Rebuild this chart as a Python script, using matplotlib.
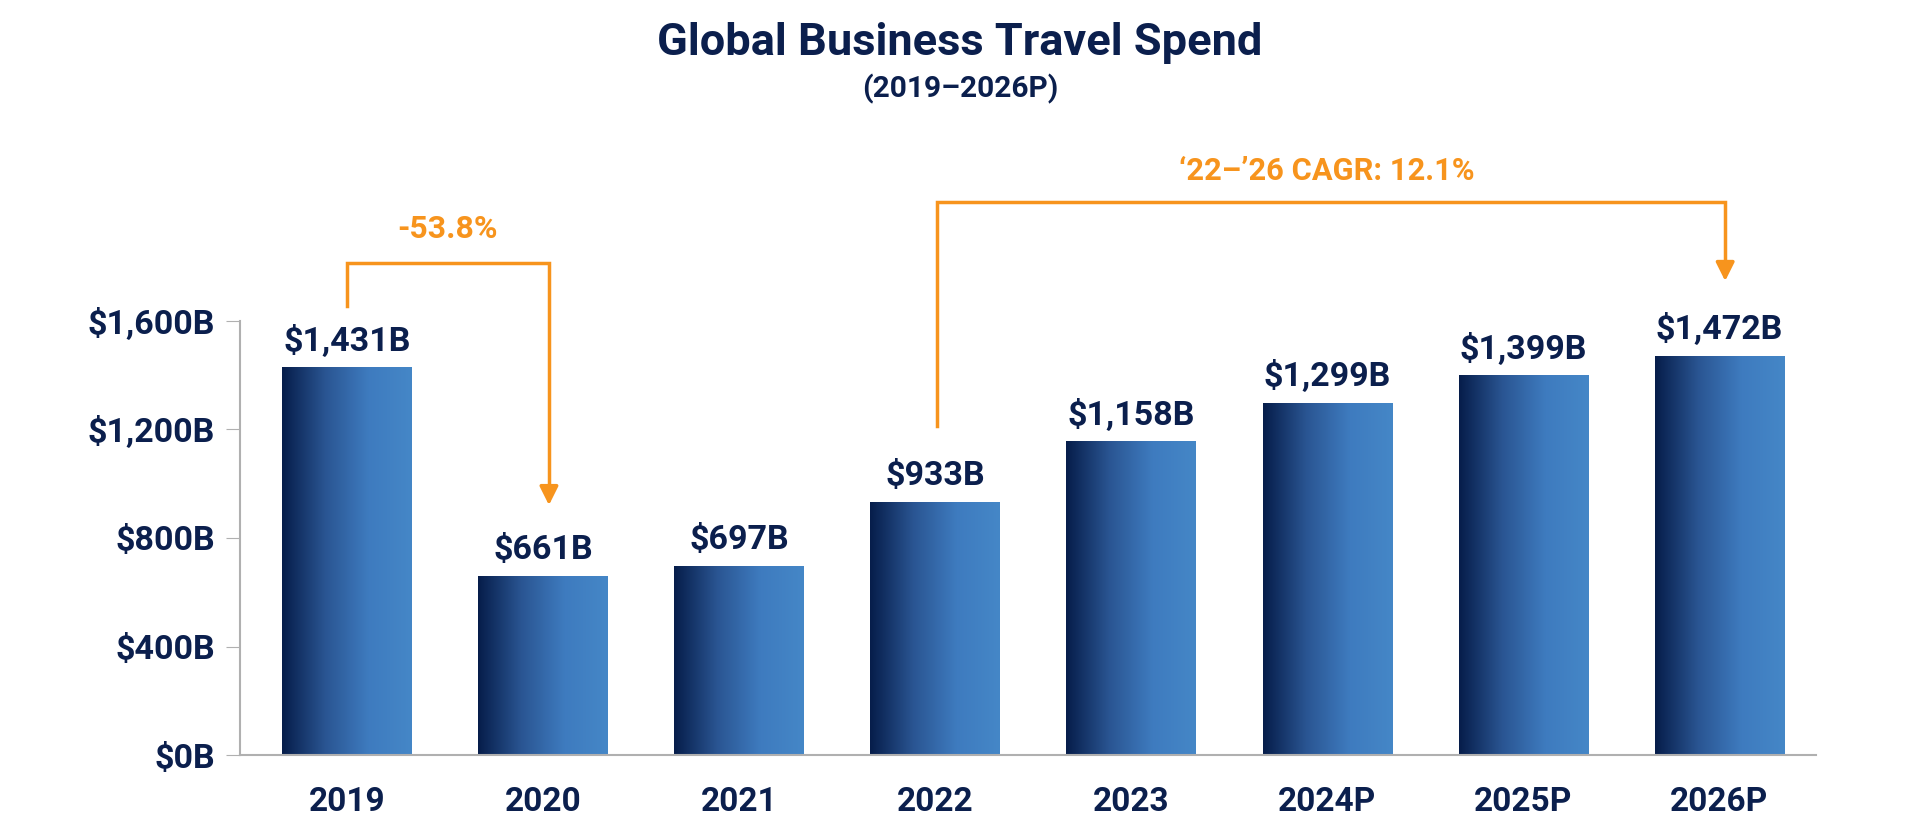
import numpy as np
import matplotlib
matplotlib.use("Agg")
import matplotlib.pyplot as plt
from matplotlib.colors import LinearSegmentedColormap

plt.rcParams['font.family'] = ['Roboto', 'DejaVu Sans']
plt.rcParams['font.weight'] = 'bold'

# data
years = ['2019', '2020', '2021', '2022', '2023', '2024P', '2025P', '2026P']
spend = [1431, 661, 697, 933, 1158, 1299, 1399, 1472]
yticks = [0, 400, 800, 1200, 1600]
drop_label = '-53.8%'
cagr_label = '\u201822\u2013\u201926 CAGR: 12.1%'

NAVY = '#0b1f4d'
ORANGE = '#f7941d'
bar_cmap = LinearSegmentedColormap.from_list('bars', ['#061d4a', '#2a5592', '#3e7bbf', '#4587c7'])

fig = plt.figure(figsize=(19.2, 8.38), dpi=100)
ax = fig.add_axes([0.125, 0.099, 0.821, 0.518])

x = np.arange(len(years))
bars = ax.bar(x, spend, width=0.66, color='none', edgecolor='none', zorder=2)
grad = np.linspace(0, 1, 256).reshape(1, -1)
for b in bars:
    x0, w, h = b.get_x(), b.get_width(), b.get_height()
    im = ax.imshow(grad, cmap=bar_cmap, aspect='auto', extent=[x0, x0 + w, 0, h],
                   zorder=2, interpolation='bilinear')
    im.set_clip_path(b)

for xi, v in zip(x, spend):
    ax.text(xi, v + 95, f'${v:,}B', ha='center', va='center', fontsize=24.5,
            color=NAVY, fontweight='bold')

ax.set_xlim(-0.546, 7.495)
ax.set_ylim(0, 1600)
ax.set_yticks(yticks)
ax.set_yticklabels([f'${t:,}B' for t in yticks], fontsize=24.5, color=NAVY, fontweight='bold')
ax.set_xticks(x)
ax.set_xticklabels(years, fontsize=24, color=NAVY, fontweight='bold')
ax.tick_params(axis='y', length=10, color='#b0b0b0', pad=8)
ax.tick_params(axis='x', length=0, pad=22)
for s in ['top', 'right']:
    ax.spines[s].set_visible(False)
for s in ['left', 'bottom']:
    ax.spines[s].set_color('#b0b0b0')
    ax.spines[s].set_linewidth(1.5)

# -53.8% bracket 2019 -> 2020
lw = 2.5
y_top = 1814
ax.plot([0, 0, 1.03, 1.03], [spend[0] + 224, y_top, y_top, spend[1] + 320],
        color=ORANGE, lw=lw, clip_on=False, solid_joinstyle='miter')
ax.annotate('', xy=(1.03, spend[1] + 250), xytext=(1.03, spend[1] + 330),
            arrowprops=dict(arrowstyle='-|>', color=ORANGE, lw=lw, mutation_scale=28),
            annotation_clip=False)
ax.text(0.515, 1939, drop_label, ha='center', va='center', fontsize=23,
        color=ORANGE, fontweight='bold')

# CAGR bracket 2022 -> 2026P
y_top2 = 2039
ax.plot([3.01, 3.01, 7.03, 7.03], [spend[3] + 280, y_top2, y_top2, spend[7] + 330],
        color=ORANGE, lw=lw, clip_on=False, solid_joinstyle='miter')
ax.annotate('', xy=(7.03, spend[7] + 265), xytext=(7.03, spend[7] + 340),
            arrowprops=dict(arrowstyle='-|>', color=ORANGE, lw=lw, mutation_scale=28),
            annotation_clip=False)
ax.text(5.0, 2153, cagr_label, ha='center', va='center', fontsize=22.2,
        color=ORANGE, fontweight='bold')

fig.text(0.5, 1 - 43 / 838, 'Global Business Travel Spend', ha='center', va='center',
         fontsize=32.5, color=NAVY, fontweight='bold')
fig.text(0.5, 1 - 89 / 838, '(2019\u20132026P)', ha='center', va='center',
         fontsize=21.5, color=NAVY, fontweight='bold')

fig.savefig('out.png', dpi=100)
